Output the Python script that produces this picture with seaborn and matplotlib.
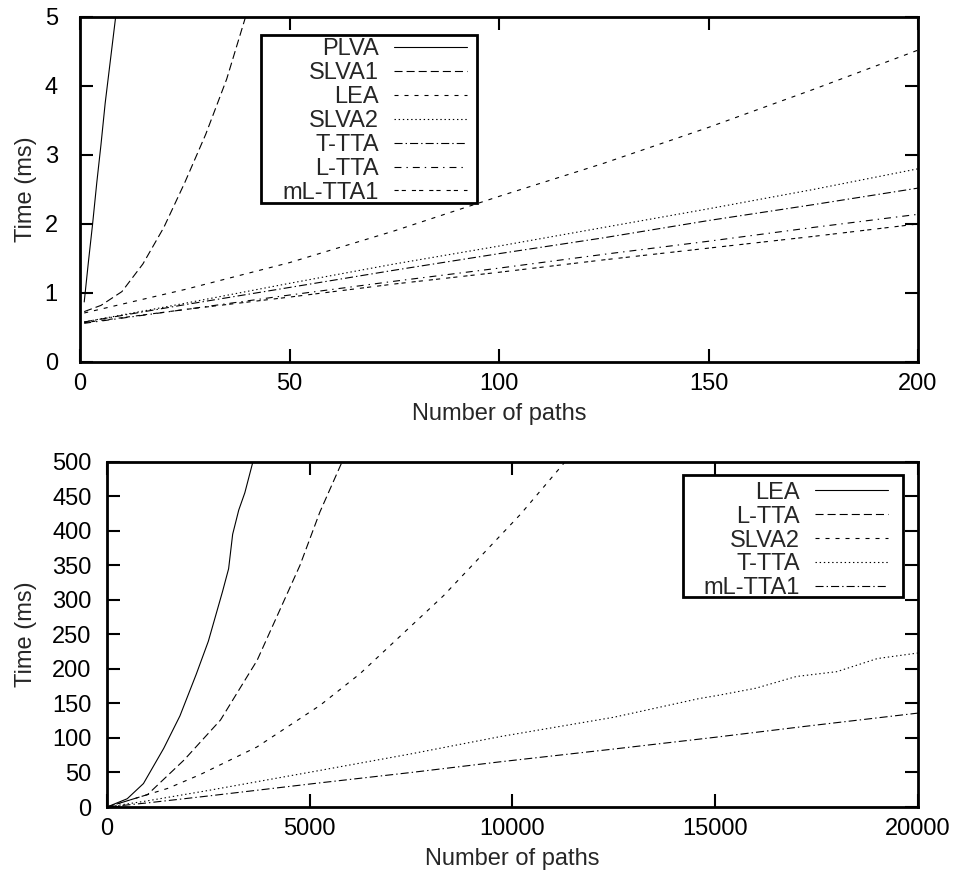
import numpy as np
import pandas as pd
import matplotlib
matplotlib.use("Agg")
import matplotlib.pyplot as plt
from matplotlib.patches import Rectangle
import seaborn as sns

# ---------------- data: top panel (0..200 paths) ----------------
plva_x = [1, 2, 3, 4, 5, 6, 7, 8, 9, 10]
plva_y = [0.87, 1.45, 2.0, 2.6, 3.15, 3.75, 4.25, 4.75, 5.25, 5.75]
slva1_x = [1, 5, 10, 15, 20, 25, 30, 35, 40, 45]
slva1_y = [0.73, 0.82, 1.02, 1.42, 1.95, 2.6, 3.3, 4.1, 5.1, 6.2]
top_x = [1, 25, 50, 75, 100, 125, 150, 175, 200]
lea_top = [0.71, 1.05, 1.44, 1.9, 2.4, 2.88, 3.4, 3.95, 4.52]
slva2_top = [0.58, 0.85, 1.14, 1.42, 1.68, 1.95, 2.22, 2.5, 2.8]
ttta_top = [0.58, 0.83, 1.08, 1.33, 1.57, 1.8, 2.05, 2.28, 2.52]
ltta_top = [0.56, 0.76, 0.97, 1.17, 1.36, 1.56, 1.75, 1.95, 2.14]
mltta1_top = [0.57, 0.76, 0.94, 1.13, 1.3, 1.48, 1.65, 1.82, 2.0]

# ---------------- data: bottom panel (0..20000 paths) ----------------
lea_x = [0, 500, 900, 1400, 1800, 2200, 2500, 2850, 3000, 3100, 3250, 3400, 3600, 4000]
lea_y = [0, 12, 34, 85, 132, 192, 240, 312, 345, 395, 430, 455, 500, 590]
ltta_x = [0, 1000, 1900, 2800, 3500, 3700, 4760, 5250, 5800, 6200]
ltta_y = [0, 18, 68, 126, 193, 212, 350, 427, 500, 560]
slva2_x = [0, 1500, 2300, 3700, 5250, 6240, 8300, 10200, 11300, 12000]
slva2_y = [0, 27, 47, 87, 147, 193, 306, 424, 500, 550]
ttta_x = [0, 1000, 2500, 5250, 7500, 9700, 12500, 14600, 15100, 16000, 17000, 18000, 19000, 20000]
ttta_y = [0, 9, 24, 53, 77, 102, 130, 157, 162, 172, 189, 196, 215, 223]
mltta1_x = [0, 1000, 2500, 5250, 7500, 9700, 12500, 15000, 17100, 20000]
mltta1_y = [0, 6, 16, 35, 50, 65.5, 84, 101, 116, 136]

top_series = [
    ("PLVA", plva_x, plva_y),
    ("SLVA1", slva1_x, slva1_y),
    ("LEA", top_x, lea_top),
    ("SLVA2", top_x, slva2_top),
    ("T-TTA", top_x, ttta_top),
    ("L-TTA", top_x, ltta_top),
    ("mL-TTA1", top_x, mltta1_top),
]
bottom_series = [
    ("LEA", lea_x, lea_y),
    ("L-TTA", ltta_x, ltta_y),
    ("SLVA2", slva2_x, slva2_y),
    ("T-TTA", ttta_x, ttta_y),
    ("mL-TTA1", mltta1_x, mltta1_y),
]

# gnuplot-like line types (in points, unscaled)
styles = [
    "-",
    (0, (5.8, 2.9)),
    (0, (2.9, 4.3)),
    (0, (1.0, 2.0)),
    (0, (5.8, 2.2, 1.0, 2.2)),
    (0, (5.0, 3.6, 1.0, 3.6)),
    (0, (3.0, 2.2, 3.0, 4.3)),
]

sns.set_style("ticks")
plt.rcParams["font.family"] = ["Liberation Sans", "DejaVu Sans"]
plt.rcParams["lines.scale_dashes"] = False
FS = 17

fig = plt.figure(figsize=(9.55, 8.85), dpi=100)
ax1 = fig.add_axes([0.0838, 0.5910, 0.8775, 0.3898])
ax2 = fig.add_axes([0.1120, 0.0881, 0.8492, 0.3902])


def draw(ax, series):
    for i, (name, xs, ys) in enumerate(series):
        df = pd.DataFrame({"x": xs, "y": ys})
        sns.lineplot(data=df, x="x", y="y", ax=ax, color="black", lw=0.8,
                     linestyle=styles[i], label=name, sort=False,
                     estimator=None)


draw(ax1, top_series)
draw(ax2, bottom_series)

ax1.set_xlim(0, 200)
ax1.set_ylim(0, 5)
ax1.set_xticks([0, 50, 100, 150, 200])
ax1.set_yticks([0, 1, 2, 3, 4, 5])
ax2.set_xlim(0, 20000)
ax2.set_ylim(0, 500)
ax2.set_xticks([0, 5000, 10000, 15000, 20000])
ax2.set_yticks(list(range(0, 501, 50)))

for ax, ypad in ((ax1, 16), (ax2, 11)):
    ax.set_xlabel("Number of paths", fontsize=FS, labelpad=6)
    ax.set_ylabel("Time (ms)", fontsize=FS)
    for s in ax.spines.values():
        s.set_visible(True)
        s.set_linewidth(2.0)
        s.set_color("black")
    ax.tick_params(direction="in", length=9.5, width=1.5, labelsize=FS,
                   top=True, right=True, colors="black")
    ax.tick_params(axis="x", pad=8)
    ax.tick_params(axis="y", pad=ypad)

ax1.yaxis.set_label_coords(-0.0513, 0.5)
ax2.yaxis.set_label_coords(-0.0863, 0.5)

common = dict(markerfirst=False, fontsize=FS, handlelength=3.1,
              handletextpad=0.64, labelspacing=0.08, borderpad=0.0,
              borderaxespad=0, frameon=False, loc="upper right")
leg1 = ax1.legend(bbox_to_anchor=(0.4618, 0.938), **common)
leg2 = ax2.legend(bbox_to_anchor=(0.963, 0.942), **common)
leg1.set_zorder(6)
leg2.set_zorder(6)

# gnuplot-style key boxes
ax1.add_patch(Rectangle((0.216, 0.4609), 0.4737 - 0.216, 0.9478 - 0.4609,
                        transform=ax1.transAxes, facecolor="white",
                        edgecolor="black", lw=2.0, zorder=5))
ax2.add_patch(Rectangle((0.710, 0.608), 0.9815 - 0.710, 0.9615 - 0.608,
                        transform=ax2.transAxes, facecolor="white",
                        edgecolor="black", lw=2.0, zorder=5))

fig.savefig("out.png", dpi=100)
